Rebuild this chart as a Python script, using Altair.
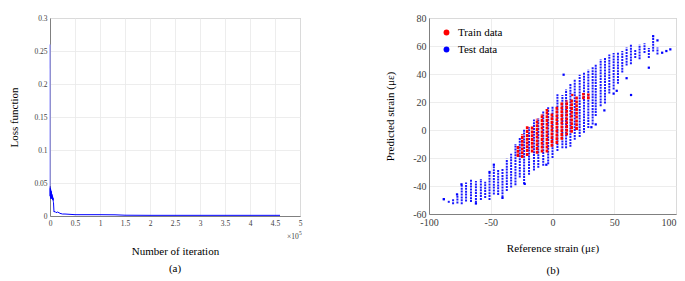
import altair as alt
import pandas as pd

FONT = "Liberation Serif"

# ---------------- Panel (a): loss function ----------------
iter_x = [0, 0.001, 0.003, 0.006, 0.01, 0.014, 0.018, 0.022, 0.026, 0.03, 0.034, 0.038,
          0.042, 0.046, 0.05, 0.054, 0.058, 0.062, 0.066, 0.07, 0.08, 0.1, 0.12, 0.15,
          0.18, 0.2, 0.25, 0.3, 0.4, 0.5, 0.7, 1.0, 1.3, 1.5, 2.0, 2.5, 3.0, 3.5, 4.0, 4.6]
loss_y = [0.26, 0.045, 0.03, 0.042, 0.028, 0.04, 0.026, 0.038, 0.03, 0.036, 0.027, 0.033,
          0.026, 0.031, 0.025, 0.029, 0.024, 0.027, 0.022, 0.02, 0.006, 0.007, 0.005, 0.006,
          0.005, 0.004, 0.003, 0.003, 0.0025, 0.002, 0.002, 0.002, 0.0018, 0.0012, 0.001,
          0.001, 0.001, 0.001, 0.001, 0.001]
iter_ticks = [0, 0.5, 1, 1.5, 2, 2.5, 3, 3.5, 4, 4.5, 5]
loss_ticks = [0, 0.05, 0.1, 0.15, 0.2, 0.25, 0.3]

# ---------------- Panel (b): predicted vs reference strain ----------------
# Test data: dense vertical columns (x, low, high)
test_col_x = [-88, -84, -80.5, -77, -73.5, -70, -66, -62, -58, -54.5, -51, -47.5, -44, -40.5,
              -37, -33.5, -30, -26.5, -23, -19, -15, -11.5, -7.5, -3.5, 0, 4, 8, 11, 14.5, 18,
              22, 25.5, 29, 32.5, 35, 39, 42.5, 46, 49.5, 53, 56.5, 60, 63.5, 67, 70.5, 74.5,
              78, 81.5, 85]
test_col_lo = [-50, -52, -53, -52.5, -53, -51, -51.5, -52, -50, -48.5, -50, -46, -46.5, -48,
               -43.5, -41, -39.5, -34, -38.5, -32, -29, -27, -25.5, -24.5, -20, -15, -13, -13,
               -12, -7, -5, -2, 1.5, 4, 10, 17, 19, 26, 29, 33, 41, 46, 47, 51.5, 50.5, 55,
               51.5, 56, 54]
test_col_hi = [-48.5, -50.5, -49, -46, -39, -37.5, -35, -36.5, -35, -37, -30.5, -25.5, -28.5,
               -27.5, -20.5, -17, -10, -5.5, 0.5, 2, 7.5, 8.5, 13.5, 17, 17, 25.5, 25, 29, 33,
               36, 39.5, 41, 43, 45, 47, 50.5, 52, 54, 55, 55.5, 56.5, 59, 61, 57.5, 61, 62,
               58.5, 66.5, 59]
# Test data: isolated points
test_pt_x = [-88, -77.3, -73.7, -51, -47.5, -22.5, -5, 9, 31.5, 35, 42, 49.5, 52, 60, 63.6,
             78, 81.5, 85, 88.8, 92.2, 95.4, -62, -40.5]
test_pt_y = [-49.5, -46, -38.8, -30, -24.8, -38.5, -24.8, 39.5, 2, 4, 14, 26, 28, 37, 25,
             44.5, 67, 64, 55.2, 56.4, 57.6, -52.5, -48.5]

# Train data: dense vertical columns (x, low, high)
train_col_x = [-28, -24.5, -20.5, -16.5, -12.5, -8.5, -4.5, -0.5, 3.5, 7.5, 11.5, 15.5, 19.5, 25, 29]
train_col_lo = [-19, -20, -18.5, -16, -17, -16, -16, -12, -10, -7, -4, -2, 0, 22, 22]
train_col_hi = [-11.5, -3, 3, 3, 8, 11.5, 15, 12, 17, 20, 21, 22, 24, 26.5, 26]
train_pt_x = [-4.5, 19.5, 16, -28]
train_pt_y = [14, 1, 25, -18.5]

strain_x_ticks = [-100, -50, 0, 50, 100]
strain_y_ticks = [-60, -40, -20, 0, 20, 40, 60, 80]

series_names = ["Train data", "Test data"]
series_colors = ["#ff0000", "#0000ff"]

# ---------------- build data frames ----------------
loss_df = pd.DataFrame({"it": iter_x, "loss": loss_y})
spike_df = loss_df.iloc[:2]
rest_df = loss_df.iloc[1:]

test_cols = pd.DataFrame({"x": test_col_x, "lo": test_col_lo, "hi": test_col_hi})
train_cols = pd.DataFrame({"x": train_col_x, "lo": train_col_lo, "hi": train_col_hi})
pts = pd.DataFrame({
    "x": test_pt_x + train_pt_x,
    "y": test_pt_y + train_pt_y,
    "series": ["Test data"] * len(test_pt_x) + ["Train data"] * len(train_pt_x),
})

label_color = "#404040"

# ---- panel (a)
xa_scale = alt.Scale(domain=[0, 5], nice=False)
ya_scale = alt.Scale(domain=[0, 0.3], nice=False)
xa_axis = alt.Axis(values=iter_ticks, format="~g", tickCount=11,
                   title="Number of iteration", titlePadding=19, labelFontSize=7.5,
                   labelPadding=3)
ya_axis = alt.Axis(values=loss_ticks, format="~g", tickCount=7,
                   title="Loss function", titlePadding=14, labelFontSize=7.5,
                   labelPadding=3)


def xa():
    return alt.X("it:Q", scale=xa_scale, axis=xa_axis)


def ya():
    return alt.Y("loss:Q", scale=ya_scale, axis=ya_axis)


spike = alt.Chart(spike_df).mark_line(color="#9a9aff", strokeWidth=1.2).encode(x=xa(), y=ya())
line = alt.Chart(rest_df).mark_line(color="#0000ff", strokeWidth=1).encode(x=xa(), y=ya())
exp_txt = alt.Chart(pd.DataFrame({"t": ["×10"]})).mark_text(
    font=FONT, fontSize=7.5, color=label_color, align="left", baseline="middle"
).encode(text="t:N", x=alt.value(237), y=alt.value(219))
exp_sup = alt.Chart(pd.DataFrame({"t": ["5"]})).mark_text(
    font=FONT, fontSize=5.5, color=label_color, align="left", baseline="middle"
).encode(text="t:N", x=alt.value(249), y=alt.value(215))
lab_a = alt.Chart(pd.DataFrame({"t": ["(a)"]})).mark_text(
    font=FONT, fontSize=11, color="black", baseline="middle"
).encode(text="t:N", x=alt.value(125), y=alt.value(251))

panel_a = alt.layer(spike, line, exp_txt, exp_sup, lab_a).properties(width=250, height=198)

# ---- panel (b)
xb_axis = alt.Axis(values=strain_x_ticks, labelExpr="'' + datum.value", tickCount=5,
                   labelAlign={"condition": {"test": "datum.value == 100", "value": "right"},
                               "value": "center"},
                   title="Reference strain (με)", titlePadding=15, labelFontSize=10,
                   labelPadding=3)
yb_axis = alt.Axis(values=strain_y_ticks, labelExpr="'' + datum.value", tickCount=8,
                   title="Predicted strain (με)", titlePadding=17, labelFontSize=10,
                   labelPadding=3)
xs = alt.Scale(domain=[-100, 100], nice=False)
ys = alt.Scale(domain=[-60, 80], nice=False)


def xb(field):
    return alt.X(field, scale=xs, axis=xb_axis)


def yb(field):
    return alt.Y(field, scale=ys, axis=yb_axis)


test_rules = alt.Chart(test_cols).mark_rule(
    color="#1a1aff", strokeWidth=2, strokeDash=[2, 0.9]
).encode(x=xb("x:Q"), y=yb("lo:Q"), y2="hi:Q")

points = alt.Chart(pts).mark_square(size=5, opacity=1).encode(
    x=xb("x:Q"), y=yb("y:Q"),
    color=alt.Color("series:N",
                    scale=alt.Scale(domain=series_names, range=series_colors),
                    legend=alt.Legend(title=None, orient="none", legendX=12, legendY=9,
                                      symbolType="circle", symbolSize=34,
                                      labelFont=FONT, labelFontSize=11, labelColor="black",
                                      rowPadding=5, labelOffset=6)),
)

train_rules = alt.Chart(train_cols).mark_rule(
    color="#ff0000", strokeWidth=2.6, strokeDash=[3, 0.8]
).encode(x=xb("x:Q"), y=yb("lo:Q"), y2="hi:Q")

lab_b = alt.Chart(pd.DataFrame({"t": ["(b)"]})).mark_text(
    font=FONT, fontSize=11, color="black", baseline="middle"
).encode(text="t:N", x=alt.value(124), y=alt.value(253))

panel_b = alt.layer(test_rules, points, train_rules, lab_b).properties(width=247, height=196)

chart = alt.hconcat(panel_a, panel_b, spacing=81).properties(
    padding={"left": 0, "top": 4, "right": 0, "bottom": 0}
).resolve_scale(x="independent", y="independent", color="independent").configure(
    font=FONT
).configure_view(
    stroke="#a0a0a0", strokeWidth=1
).configure_axis(
    labelFont=FONT, titleFont=FONT, labelColor=label_color, titleColor="black",
    titleFontSize=11, titleFontWeight="normal", ticks=False, domainColor="#808080",
    gridColor="#e8e8e8", gridWidth=0.8, labelOverlap=False, labelFlush=False
).configure_legend(
    labelFont=FONT
)

chart.save("out.html", embed_options={"renderer": "svg", "actions": False})
